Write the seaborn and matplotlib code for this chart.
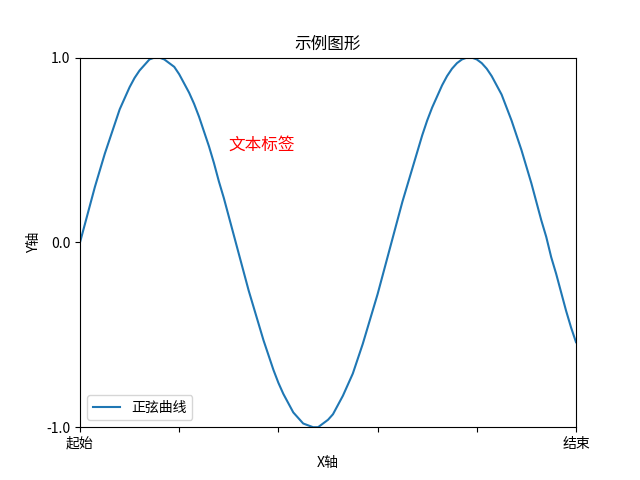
import numpy as np
import pandas as pd
import matplotlib
matplotlib.use("Agg")
import matplotlib.pyplot as plt
import seaborn as sns

# values, one every 0.1 along x
x_vals = np.linspace(0, 10, 101)
y_vals = [0.00, 0.10, 0.20, 0.30, 0.39, 0.48, 0.56, 0.64, 0.72, 0.78,
          0.84, 0.89, 0.93, 0.96, 0.99, 1.00, 1.00, 0.99, 0.97, 0.95,
          0.91, 0.86, 0.81, 0.75, 0.68, 0.60, 0.52, 0.43, 0.33, 0.24,
          0.14, 0.04, -0.06, -0.16, -0.26, -0.35, -0.44, -0.53, -0.61, -0.69,
          -0.76, -0.82, -0.87, -0.92, -0.95, -0.98, -0.99, -1.00, -1.00, -0.98,
          -0.96, -0.93, -0.88, -0.83, -0.77, -0.71, -0.63, -0.55, -0.46, -0.37,
          -0.28, -0.18, -0.08, 0.02, 0.12, 0.22, 0.31, 0.40, 0.49, 0.58,
          0.66, 0.73, 0.79, 0.85, 0.90, 0.94, 0.97, 0.99, 1.00, 1.00,
          0.99, 0.97, 0.94, 0.90, 0.85, 0.80, 0.73, 0.66, 0.58, 0.50,
          0.41, 0.32, 0.22, 0.12, 0.03, -0.08, -0.17, -0.27, -0.37, -0.46,
          -0.54]
series_name = "正弦曲线"

x_ticks = [0, 2, 4, 6, 8, 10]
x_ticklabels = ["起始", "", "", "", "", "结束"]
y_ticks = [-1, 0, 1]
y_ticklabels = ["-1.0", "0.0", "1.0"]

note_text = "文本标签"
note_pos = (3, 0.5)

plt.rcParams['font.family'] = ['Noto Sans CJK SC', 'DejaVu Sans']
plt.rcParams['axes.unicode_minus'] = False

df = pd.DataFrame({"x": x_vals, "y": y_vals, "name": series_name})

fig, ax = plt.subplots(figsize=(6.4, 4.8), dpi=100)
sns.lineplot(data=df, x="x", y="y", hue="name", palette=["#1f77b4"], ax=ax)

ax.set_xlim(0, 10)
ax.set_ylim(-1, 1)
ax.set_xticks(x_ticks)
ax.set_xticklabels(x_ticklabels)
ax.set_yticks(y_ticks)
ax.set_yticklabels(y_ticklabels)

ax.set_title("示例图形")
ax.set_xlabel("X轴")
ax.set_ylabel("Y轴")
ax.text(note_pos[0], note_pos[1], note_text, color="red", fontsize=12)
ax.legend(loc="lower left")

fig.savefig("out.png", dpi=100)
